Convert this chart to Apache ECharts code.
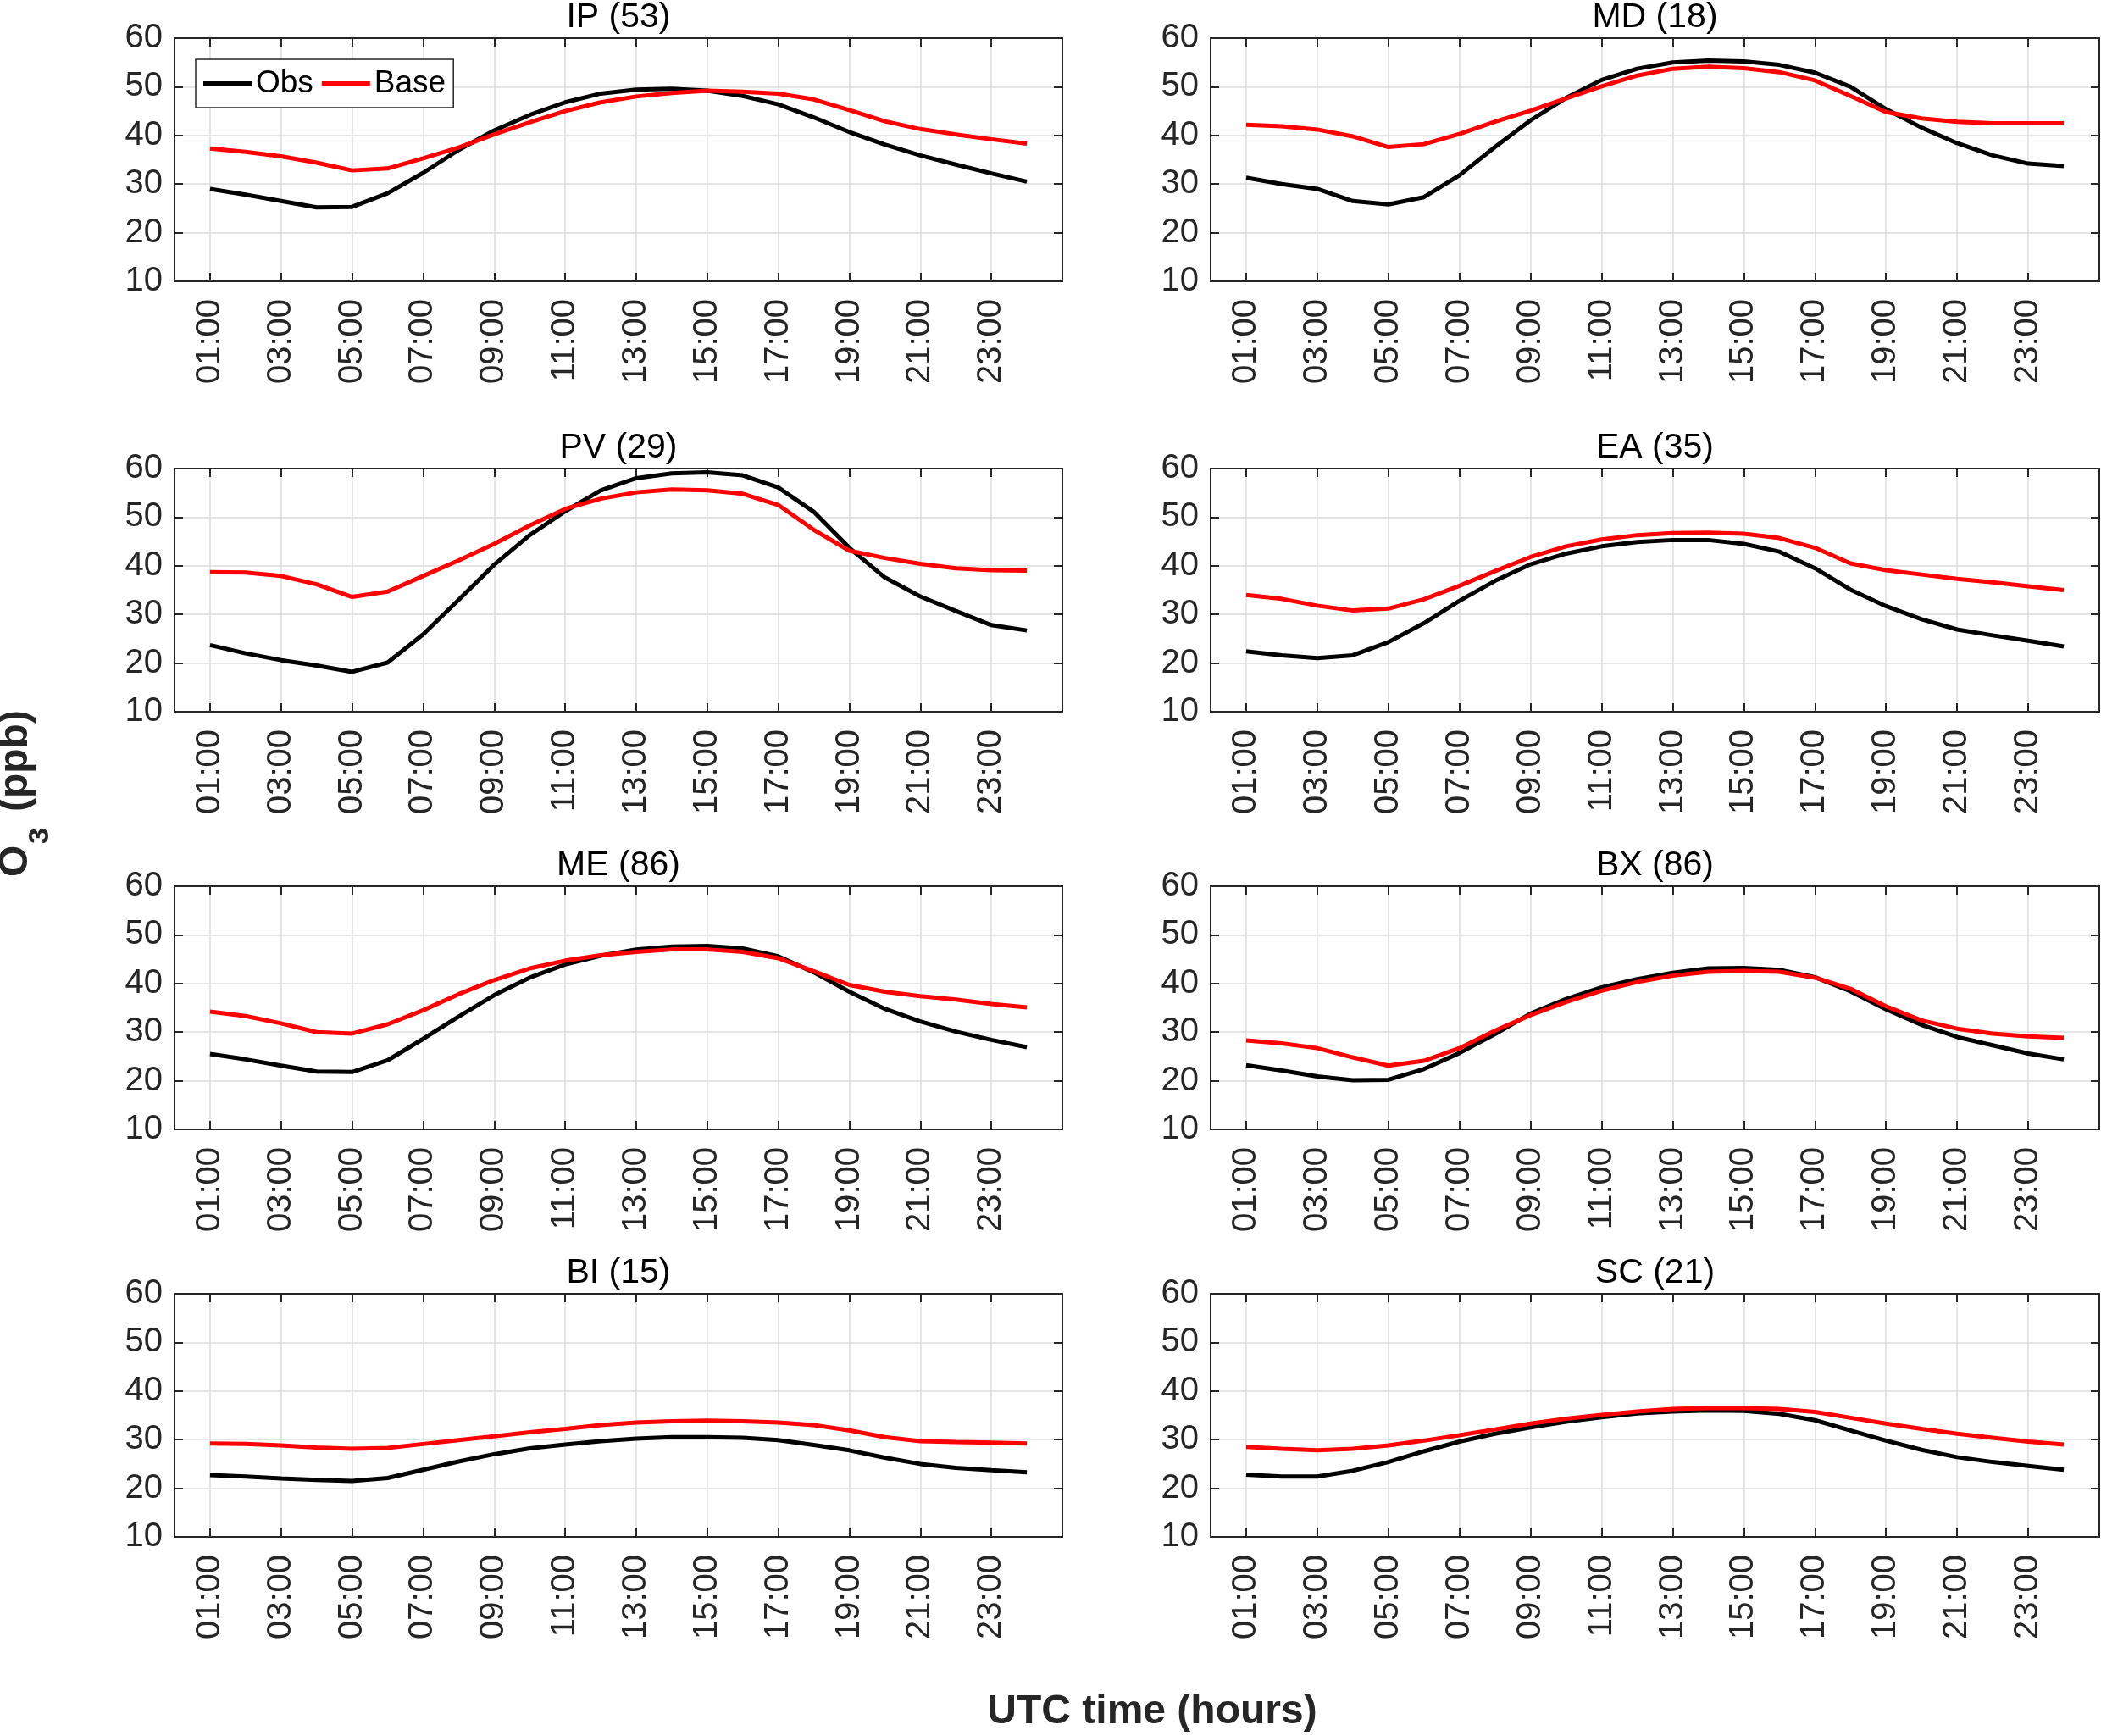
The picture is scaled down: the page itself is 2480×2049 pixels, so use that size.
<!DOCTYPE html>
<html>
<head>
<meta charset="utf-8">
<script src="https://cdn.jsdelivr.net/npm/echarts@6/dist/echarts.min.js"></script>
<style>
html,body{margin:0;padding:0;background:#fff;}
#chart{width:2480px;height:2049px;}
</style>
</head>
<body>
<div id="chart"></div>
<script>
// Category positions 00:00 .. 25:00 (data at 01:00 .. 24:00)
const hourCats = ['00:00','01:00','02:00','03:00','04:00','05:00','06:00','07:00','08:00','09:00','10:00','11:00','12:00','13:00','14:00','15:00','16:00','17:00','18:00','19:00','20:00','21:00','22:00','23:00','24:00','25:00'];
const yTicks = [10, 20, 30, 40, 50, 60];
const seriesNames = ['Obs', 'Base'];
const panelTitles = ['IP (53)', 'MD (18)', 'PV (29)', 'EA (35)', 'ME (86)', 'BX (86)', 'BI (15)', 'SC (21)'];

// Hourly O3 (ppb), 01:00 .. 24:00
const ipObs  = [29.0,27.8,26.5,25.2,25.3,28.1,32.3,37.0,41.0,44.2,46.8,48.6,49.4,49.6,49.2,48.1,46.4,43.7,40.7,38.1,35.9,34.0,32.2,30.5];
const ipBase = [37.3,36.6,35.7,34.4,32.8,33.2,35.3,37.5,40.2,42.7,45.0,46.8,48.0,48.7,49.2,49.0,48.6,47.4,45.2,42.9,41.3,40.2,39.2,38.3];
const mdObs  = [31.3,30.0,29.0,26.5,25.8,27.3,31.8,37.6,43.1,47.7,51.4,53.7,55.0,55.4,55.2,54.5,52.9,50.0,45.4,41.6,38.4,35.9,34.2,33.7];
const mdBase = [42.2,41.9,41.2,39.8,37.6,38.2,40.3,42.8,45.1,47.6,50.1,52.3,53.7,54.1,53.8,53.0,51.3,48.1,44.8,43.5,42.8,42.5,42.5,42.5];
const pvObs  = [23.7,22.0,20.6,19.5,18.2,20.1,25.9,33.0,40.2,46.3,51.2,55.5,58.0,59.0,59.2,58.6,56.1,51.1,43.7,37.6,33.7,30.7,27.8,26.7];
const pvBase = [38.7,38.6,37.9,36.2,33.6,34.7,37.9,41.1,44.5,48.3,51.7,53.8,55.1,55.7,55.5,54.8,52.5,47.4,43.1,41.6,40.4,39.5,39.1,39.0];
const eaObs  = [22.4,21.6,21.0,21.6,24.3,28.2,32.8,36.9,40.3,42.5,44.0,44.9,45.3,45.3,44.5,42.9,39.5,35.1,31.7,29.0,26.9,25.7,24.6,23.4];
const eaBase = [34.0,33.2,31.8,30.8,31.2,33.1,35.9,38.9,41.8,44.0,45.4,46.3,46.7,46.8,46.6,45.7,43.7,40.5,39.1,38.2,37.3,36.6,35.8,35.0];
const meObs  = [25.5,24.4,23.1,21.9,21.8,24.2,28.6,33.2,37.6,41.2,43.9,45.7,47.0,47.6,47.7,47.2,45.6,42.3,38.3,34.8,32.2,30.1,28.4,26.9];
const meBase = [34.2,33.3,31.8,30.0,29.7,31.6,34.5,37.8,40.7,43.1,44.7,45.8,46.5,47.0,47.0,46.5,45.2,42.5,39.7,38.3,37.4,36.7,35.8,35.1];
const bxObs  = [23.2,22.1,20.9,20.1,20.2,22.4,25.7,29.6,33.8,36.8,39.2,40.9,42.2,43.1,43.2,42.8,41.3,38.4,34.7,31.5,29.0,27.3,25.6,24.4];
const bxBase = [28.3,27.7,26.7,24.8,23.1,24.1,26.7,30.3,33.5,36.2,38.5,40.3,41.6,42.4,42.6,42.4,41.2,38.9,35.3,32.4,30.7,29.7,29.1,28.8];
const biObs  = [22.7,22.4,22.0,21.7,21.5,22.1,23.8,25.5,27.0,28.2,29.0,29.7,30.2,30.5,30.5,30.4,29.9,28.9,27.8,26.3,25.0,24.2,23.7,23.3];
const biBase = [29.2,29.1,28.8,28.4,28.1,28.3,29.1,29.9,30.7,31.5,32.2,33.0,33.5,33.8,33.9,33.8,33.5,33.0,31.9,30.5,29.7,29.5,29.4,29.2];
const scObs  = [22.8,22.4,22.4,23.6,25.4,27.6,29.6,31.2,32.5,33.7,34.6,35.4,35.8,36.0,35.9,35.3,34.0,31.9,29.8,27.9,26.4,25.4,24.6,23.8];
const scBase = [28.5,28.1,27.8,28.1,28.8,29.8,30.9,32.1,33.3,34.3,35.1,35.8,36.3,36.5,36.5,36.3,35.7,34.5,33.3,32.2,31.2,30.4,29.6,29.0];

const panelObs  = [ipObs, mdObs, pvObs, eaObs, meObs, bxObs, biObs, scObs];
const panelBase = [ipBase, mdBase, pvBase, eaBase, meBase, bxBase, biBase, scBase];

// ---- layout ----
const FONT = '"Liberation Sans", Arial, Helvetica, sans-serif';
const AXC = '#262626';
const GRIDC = '#dcdcdc';
const colLeft = [206, 1429];
const colWidth = [1048, 1049];
const rowTop = [45, 553, 1046, 1527];
const plotH = 287;
const oddHour = function (idx) { return idx % 2 === 1 && idx <= 23; };

const grids = [], xAxes = [], yAxes = [], series = [], titles = [];
for (let i = 0; i < 8; i++) {
  const c = i % 2, r = Math.floor(i / 2);
  grids.push({left: colLeft[c], top: rowTop[r], width: colWidth[c], height: plotH, containLabel: false});
  const lineS = {color: AXC, width: 2};
  xAxes.push({
    type: 'category', gridIndex: i, data: hourCats, boundaryGap: false, position: 'bottom',
    axisLine: {show: true, lineStyle: lineS},
    axisTick: {show: true, inside: true, length: 10, interval: oddHour, lineStyle: lineS},
    axisLabel: {show: true, interval: oddHour, rotate: 90, margin: 21, fontSize: 40, color: AXC, fontFamily: FONT},
    splitLine: {show: true, interval: oddHour, lineStyle: {color: GRIDC, width: 1.5}}
  });
  xAxes.push({
    type: 'category', gridIndex: i, data: hourCats, boundaryGap: false, position: 'top',
    axisLine: {show: true, lineStyle: lineS},
    axisTick: {show: true, inside: true, length: 10, interval: oddHour, lineStyle: lineS},
    axisLabel: {show: false}, splitLine: {show: false}
  });
  yAxes.push({
    type: 'value', gridIndex: i, min: yTicks[0], max: yTicks[yTicks.length - 1], interval: 10, position: 'left',
    axisLine: {show: true, lineStyle: lineS},
    axisTick: {show: true, inside: true, length: 10, lineStyle: lineS},
    axisLabel: {show: true, margin: 14, fontSize: 40, color: AXC, fontFamily: FONT},
    splitLine: {show: true, lineStyle: {color: GRIDC, width: 1.5}}
  });
  yAxes.push({
    type: 'value', gridIndex: i, min: yTicks[0], max: yTicks[yTicks.length - 1], interval: 10, position: 'right',
    axisLine: {show: true, lineStyle: lineS},
    axisTick: {show: true, inside: true, length: 10, lineStyle: lineS},
    axisLabel: {show: false}, splitLine: {show: false}
  });
  const obsData = panelObs[i].map(function (v, k) { return [hourCats[k + 1], v]; });
  const baseData = panelBase[i].map(function (v, k) { return [hourCats[k + 1], v]; });
  series.push({type: 'line', name: seriesNames[0], xAxisIndex: 2 * i, yAxisIndex: 2 * i, data: obsData,
    symbol: 'none', smooth: false, lineStyle: {color: '#000000', width: 5}, itemStyle: {color: '#000000'}, z: 3});
  series.push({type: 'line', name: seriesNames[1], xAxisIndex: 2 * i, yAxisIndex: 2 * i, data: baseData,
    symbol: 'none', smooth: false, lineStyle: {color: '#ff0000', width: 5}, itemStyle: {color: '#ff0000'}, z: 4});
  titles.push({
    text: panelTitles[i], left: colLeft[c] + colWidth[c] / 2, top: rowTop[r] - 45, textAlign: 'center', padding: 0,
    textStyle: {fontSize: 41, fontWeight: 'normal', color: '#000', fontFamily: FONT}
  });
}

const chart = echarts.init(document.getElementById('chart'), null, {renderer: 'canvas'});
chart.setOption({
  animation: false,
  backgroundColor: '#ffffff',
  title: titles,
  grid: grids,
  xAxis: xAxes,
  yAxis: yAxes,
  series: series,
  legend: {
    data: seriesNames, left: 231, top: 70, orient: 'horizontal', icon: 'rect',
    padding: [10, 9, 10, 9], itemGap: 10, itemWidth: 57, itemHeight: 5,
    textStyle: {fontSize: 37, color: '#000', fontFamily: FONT},
    borderColor: AXC, borderWidth: 1.5, backgroundColor: '#fff', z: 10
  },
  graphic: [
    {
      type: 'group', x: 36, y: 1035, rotation: Math.PI / 2,
      children: [
        {type: 'text', x: 0, y: -17, style: {text: 'O', fontSize: 48, fontWeight: 'bold', fontFamily: FONT, fill: AXC,
          align: 'left', verticalAlign: 'middle', textAlign: 'left', textVerticalAlign: 'middle'}},
        {type: 'text', x: 39, y: 12, style: {text: '3', fontSize: 34, fontWeight: 'bold', fontFamily: FONT, fill: AXC,
          align: 'left', verticalAlign: 'middle', textAlign: 'left', textVerticalAlign: 'middle'}},
        {type: 'text', x: 77, y: -17, style: {text: '(ppb)', fontSize: 48, fontWeight: 'bold', fontFamily: FONT, fill: AXC,
          align: 'left', verticalAlign: 'middle', textAlign: 'left', textVerticalAlign: 'middle'}}
      ]
    },
    {
      type: 'text', x: 1360, y: 2021,
      style: {text: 'UTC time (hours)', fontSize: 48, fontWeight: 'bold', fontFamily: FONT, fill: AXC,
        align: 'center', verticalAlign: 'middle', textAlign: 'center', textVerticalAlign: 'middle'}
    }
  ]
});
</script>
</body>
</html>
